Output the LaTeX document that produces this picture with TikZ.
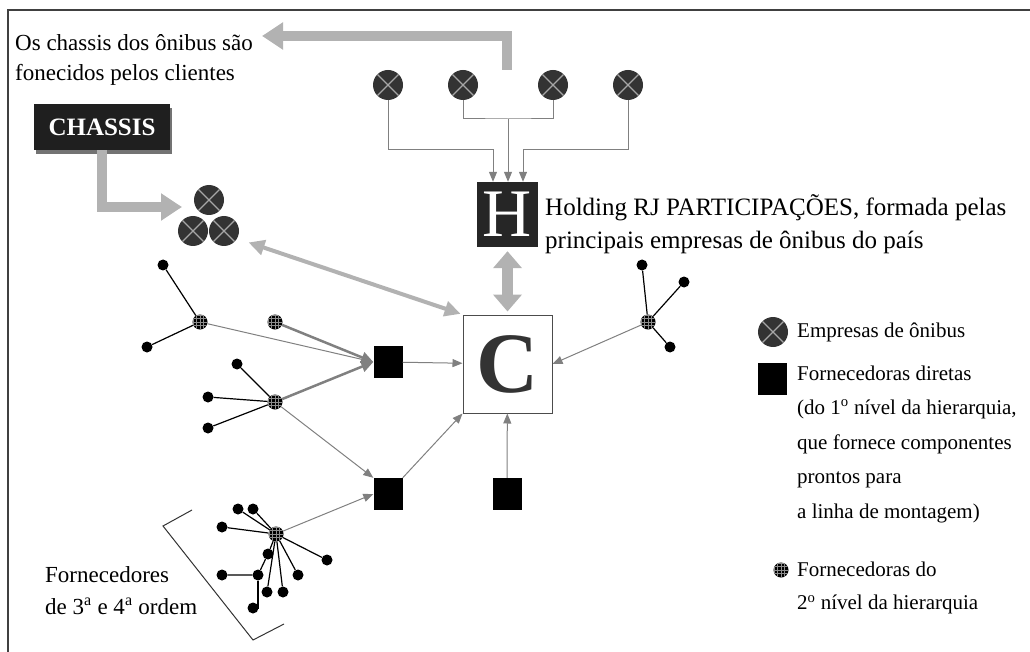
\documentclass[tikz,border=0pt]{standalone}
\usepackage{fontspec}
\setmainfont{Liberation Serif}
\usetikzlibrary{arrows.meta,shadows}

\tikzset{
  bus/.style={circle, fill=black!80, minimum size=30pt, inner sep=0pt,
    path picture={\draw[black!35, line width=1.2pt]
      ([shift={(-11pt,-11pt)}]path picture bounding box.center) -- ([shift={(11pt,11pt)}]path picture bounding box.center)
      ([shift={(-11pt,11pt)}]path picture bounding box.center) -- ([shift={(11pt,-11pt)}]path picture bounding box.center);}},
  sup/.style={fill=black, minimum width=29pt, minimum height=32pt, inner sep=0pt},
  sup2/.style={circle, fill=black, minimum size=15pt, inner sep=0pt,
    path picture={\draw[black!45, line width=0.4pt, step=3.5pt]
      (path picture bounding box.south west) grid (path picture bounding box.north east);}},
  leaf/.style={circle, fill=black, minimum size=11pt, inner sep=0pt},
  stem/.style={black, line width=1.2pt},
  link/.style={black!50, line width=1pt, -{Triangle[length=10pt,width=8pt]}},
  line/.style={black!50, line width=1pt},
  fatlink/.style={black!50, line width=2.5pt, -{Triangle[length=12pt,width=11pt]}},
  fatarrow/.style={black!30, line width=10pt, -{Triangle[length=21pt,width=26pt]}},
  dblarrow/.style={black!30, line width=4pt,
    {Triangle[length=16pt,width=15pt]}-{Triangle[length=16pt,width=15pt]}},
  lbl/.style={anchor=west, align=left, inner sep=0pt}
}

\begin{document}
\begin{tikzpicture}[x=1pt, y=-1pt, font=\fontsize{21}{34.5}\selectfont]
\useasboundingbox (0,0) rectangle (1030,652);
\draw[line width=1.5pt, black!75] (8,652) -- (8,10) -- (1030,10);

% empresas de onibus (holding)
\node[bus] (bus1) at (388,85) {};
\node[bus] (bus2) at (463,85) {};
\node[bus] (bus3) at (553,85) {};
\node[bus] (bus4) at (628,85) {};

\node[fill=black!85, text=white, minimum width=61pt, minimum height=65pt, inner sep=0pt,
  font=\fontsize{68}{68}\selectfont] (H) at (507.5,214.5) {H};
\node[draw=black!70, line width=1pt, fill=white, minimum width=89pt, minimum height=98pt,
  inner sep=0pt, text=black!80, font=\bfseries\fontsize{86}{86}\selectfont] (C) at (507.5,364) {C};

\coordinate (j1) at (493,150);
\coordinate (j2) at (508,119);
\coordinate (j4) at (523,150);
\draw[link] (bus1) |- (j1) -- (j1 |- H.north);
\draw[line] (bus2) |- (j2) -| (bus3);
\draw[link] (j2) -- (j2 |- H.north);
\draw[link] (bus4) |- (j4) -- (j4 |- H.north);

% chassis
\coordinate (topstart) at (507,70);
\coordinate (notetip) at (262,36);
\draw[fatarrow] (topstart) |- (notetip);
\node[lbl, font=\fontsize{23}{30}\selectfont] (note) at (15,60)
  {Os chassis dos ônibus são\\fonecidos pelos clientes};

\node[fill=black!88, text=white, minimum width=136pt, minimum height=46pt, inner sep=0pt,
  font=\bfseries\fontsize{25}{25}\selectfont,
  drop shadow={shadow xshift=2pt, shadow yshift=-4pt, fill=black!55, opacity=1}]
  (chassis) at (102,127) {CHASSIS};
\coordinate (chtip) at (182,207);
\draw[fatarrow] (chassis.south) |- (chtip);

\node[bus] (cl1) at (209,200) {};
\node[bus] (cl2) at (193,231) {};
\node[bus] (cl3) at (224,231) {};

\draw[dblarrow, shorten <=12pt, shorten >=2pt] (cl3.-30) -- (C.north west);
\draw[black!30, line width=11pt, shorten <=4pt, shorten >=3pt,
  {Triangle[length=17pt,width=28pt]}-{Triangle[length=17pt,width=28pt]}] (H.south) -- (C.north);

% fornecedoras
\node[sup] (sq1) at (388,362) {};
\node[sup] (sq2) at (388,494) {};
\node[sup] (sq3) at (507,494) {};

\node[sup2] (s2a) at (200,322) {};
\node[sup2] (s2b) at (275,322) {};
\node[sup2] (s2d) at (275,402) {};
\node[sup2] (s2e) at (648,322) {};
\node[sup2] (s2f) at (276,534) {};

\node[leaf] (a1) at (163,265) {};
\node[leaf] (a2) at (147,347) {};
\node[leaf] (d1) at (237,364) {};
\node[leaf] (d2) at (208,397) {};
\node[leaf] (d3) at (208,428) {};
\node[leaf] (e1) at (642,265) {};
\node[leaf] (e2) at (684,282) {};
\node[leaf] (e3) at (670,347) {};
\foreach \l in {a1,a2} \draw[stem] (s2a) -- (\l);
\foreach \l in {d1,d2,d3} \draw[stem] (s2d) -- (\l);
\foreach \l in {e1,e2,e3} \draw[stem] (s2e) -- (\l);

% 3a e 4a ordem
\node[leaf] (f1) at (238,509) {};
\node[leaf] (f2) at (253,509) {};
\node[leaf] (f3) at (222,527) {};
\node[leaf] (f4) at (327,560) {};
\node[leaf] (f5) at (298,575) {};
\node[leaf] (f6) at (283,592) {};
\node[leaf] (f7) at (267,592) {};
\node[leaf] (f8) at (268,554) {};
\node[leaf] (f9) at (258,575) {};
\node[leaf] (f10) at (222,575) {};
\node[leaf] (f11) at (253,608) {};
\foreach \l in {f1,f2,f3,f4,f5,f6,f7,f8} \draw[stem] (s2f) -- (\l);
\draw[stem] (f8) -- (f9) -- (f10);
\draw[stem] (f9) |- (f11);
\draw[black!80, line width=1pt] (192,510) -- (163,526) -- (253,640) -- (284,624);
\node[lbl, font=\fontsize{23}{32}\selectfont] (ordem) at (45,591)
  {Fornecedores\\de 3\textsuperscript{a} e 4\textsuperscript{a} ordem};

\draw[link] (s2a) -- (sq1.west);
\draw[fatlink] (s2b) -- (sq1.west);
\draw[fatlink] (s2d) -- (sq1.west);
\draw[link] (s2d) -- (sq2.north west);
\draw[link] (s2f) -- (sq2.west);
\draw[link] (sq1) -- (C);
\draw[link] (sq2.north east) -- (C.south west);
\draw[link] (sq3) -- (C);
\draw[link] (s2e) -- (C.east);

\node[lbl, font=\fontsize{25}{33}\selectfont] (holdtxt) at (545,224)
  {Holding RJ PARTICIPAÇÕES, formada pelas\\principais empresas de ônibus do país};

% legenda
\node[bus] (lgbus) at (773,332) {};
\node[lbl] (lg1) at (797,332) {Empresas de ônibus};
\node[sup] (lgsq) at (772.5,379) {};
\node[lbl] (lg2) at (797,444) {Fornecedoras diretas\\(do 1\textsuperscript{o} nível da hierarquia,\\que fornece componentes\\prontos para\\a linha de montagem)};
\node[sup2] (lgs2) at (781,570) {};
\node[lbl, font=\fontsize{21}{33}\selectfont] (lg3) at (797,588) {Fornecedoras do\\2\textsuperscript{o} nível da hierarquia};
\end{tikzpicture}
\end{document}
